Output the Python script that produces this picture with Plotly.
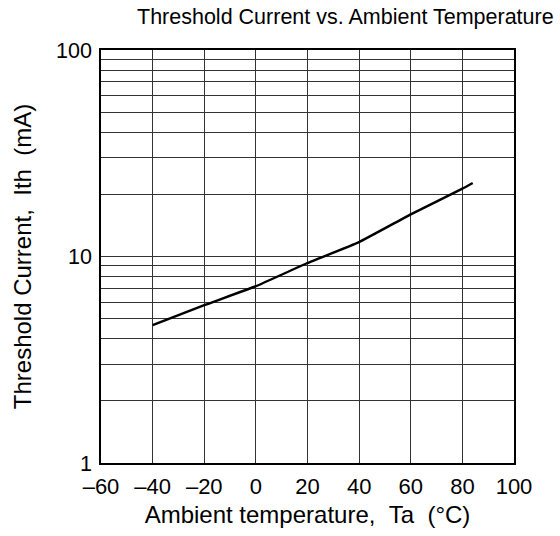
import plotly.graph_objects as go

temp_c = [-40, -20, 0, 20, 40, 60, 80, 84]
ith_ma = [4.65, 5.81, 7.18, 9.3, 11.75, 16.0, 21.3, 22.7]

x_ticks = [-60, -40, -20, 0, 20, 40, 60, 80, 100]
x_ticktext = ["\u201360", "\u201340", "\u201320", "0", "20", "40", "60", "80", "100"]
y_gridvals = [1, 2, 3, 4, 5, 6, 7, 8, 9, 10, 20, 30, 40, 50, 60, 70, 80, 90, 100]
y_labels = {1: "1", 10: "10", 100: "100"}

font_family = "Liberation Sans, Arial, Helvetica, sans-serif"

fig = go.Figure()
fig.add_trace(go.Scatter(
    x=temp_c, y=ith_ma, mode="lines",
    line=dict(color="black", width=2.4, shape="spline", smoothing=0.3),
    showlegend=False, hoverinfo="skip",
))

fig.update_layout(
    width=560, height=536,
    margin=dict(l=101, r=46, t=50, b=73),
    paper_bgcolor="white", plot_bgcolor="white",
    font=dict(family=font_family, size=22, color="black"),
    showlegend=False,
    annotations=[dict(
        text="Threshold Current vs. Ambient Temperature",
        xref="paper", yref="paper", x=1.0, y=1.0, xshift=42, yshift=33,
        xanchor="right", yanchor="middle", showarrow=False,
        font=dict(size=21.5, family=font_family, color="black"),
    )],
)

fig.update_xaxes(
    range=[-60, 100], tickvals=x_ticks, ticktext=x_ticktext,
    tickfont=dict(size=22),
    showgrid=True, gridcolor="#333333", gridwidth=1,
    showline=True, linecolor="black", linewidth=1.5, mirror=True,
    ticks="", zeroline=False, ticklabelstandoff=3,
    title=dict(text="Ambient\u00a0temperature,\u00a0\u00a0Ta\u00a0\u00a0(\u00b0C)",
               font=dict(size=24), standoff=8),
)
fig.update_yaxes(
    type="log", range=[0, 2],
    tickvals=y_gridvals, ticktext=[y_labels.get(v, "") for v in y_gridvals],
    tickfont=dict(size=21.5),
    showgrid=True, gridcolor="#333333", gridwidth=1,
    showline=True, linecolor="black", linewidth=1.5, mirror=True,
    ticks="", zeroline=False, ticklabelstandoff=3,
    title=dict(text="Threshold\u00a0Current,\u00a0\u00a0Ith\u00a0\u00a0(mA)",
               font=dict(size=24), standoff=18),
)

fig.write_html("out.html")
